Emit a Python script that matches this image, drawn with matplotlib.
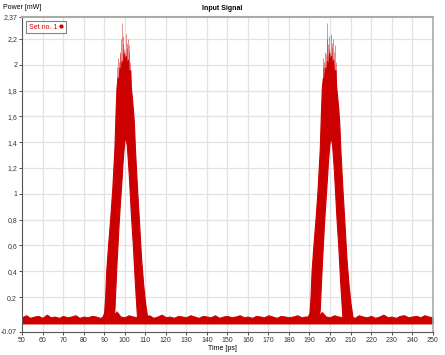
import matplotlib
matplotlib.use('Agg')
import matplotlib.pyplot as plt
from matplotlib.lines import Line2D
import numpy as np

# pulse envelope (offset from pulse centre in ps)
pulse_centers = [100, 200]
pulse_off = [-11, -10, -9.5, -9, -8, -7, -6, -5, -4.5, -4, -3.5, -3, -2.5, -2, -1.5, -1, -0.5, 0,
             0.5, 1, 1.5, 2, 2.5, 3, 3.5, 4, 4.5, 5, 6, 7, 8, 9, 10, 11]
pulse_hi = [0.04, 0.08, 0.2, 0.4, 0.62, 0.82, 1.05, 1.35, 1.6, 1.82, 1.9, 1.88, 1.98, 1.93, 2.03,
            1.97, 2.09, 2.02, 2.07, 1.98, 2.04, 1.92, 1.96, 1.83, 1.75, 1.66, 1.55, 1.35,
            1.05, 0.78, 0.5, 0.3, 0.15, 0.04]
pulse_lo = [0, 0, 0, 0, 0, 0, 0, 0.1, 0.28, 0.45, 0.6, 0.75, 0.88, 1.0, 1.12, 1.25, 1.35, 1.43,
            1.42, 1.38, 1.27, 1.15, 1.0, 0.85, 0.72, 0.6, 0.45, 0.3, 0.05, 0, 0, 0, 0, 0]

# noise spikes on top of the pulses
spike_off = [-3.6, -3.2, -2.8, -2.4, -2.1, -1.7, -1.3, -1.0, -0.7, -0.4, 0.2, 0.6, 0.9,
             1.2, 1.6, 1.9, 2.3, 2.7, 3.1]
spike_val = [1.98, 2.05, 2.02, 2.1, 2.08, 2.2, 2.32, 2.16, 2.22, 2.12, 2.1, 2.24, 2.13,
             2.17, 2.2, 2.1, 2.15, 2.02, 1.96]

# baseline noise band, every 2 ps from 50 to 250
base_t = list(range(50, 252, 2))
base_top = [0.045, 0.06, 0.04, 0.05, 0.055, 0.04, 0.065, 0.045, 0.05, 0.04,
            0.055, 0.045, 0.05, 0.06, 0.04, 0.05, 0.045, 0.055, 0.05, 0.04,
            0.05, 0.06, 0.05, 0.09, 0.05, 0.045, 0.06, 0.05, 0.045, 0.055,
            0.05, 0.06, 0.04, 0.05, 0.065, 0.045, 0.05, 0.04, 0.055, 0.05,
            0.045, 0.06, 0.05, 0.04, 0.055, 0.05, 0.045, 0.06, 0.04, 0.05,
            0.055, 0.045, 0.05, 0.06, 0.045, 0.05, 0.04, 0.055, 0.05, 0.045,
            0.06, 0.05, 0.04, 0.055, 0.05, 0.045, 0.05, 0.06, 0.045, 0.05,
            0.05, 0.06, 0.05, 0.085, 0.05, 0.045, 0.06, 0.05, 0.045, 0.055,
            0.05, 0.04, 0.06, 0.05, 0.045, 0.055, 0.04, 0.05, 0.065, 0.045,
            0.05, 0.04, 0.055, 0.06, 0.045, 0.05, 0.055, 0.045, 0.06, 0.05,
            0.045]
base_bot = -0.005

xticks = list(range(50, 260, 10))
yticks = [-0.07, 0.2, 0.4, 0.6, 0.8, 1.0, 1.2, 1.4, 1.6, 1.8, 2.0, 2.2, 2.37]
ylabels = ['-0.07', '0,2', '0,4', '0,6', '0,8', '1', '1,2', '1,4', '1,6', '1,8', '2', '2,2', '2,37']

red = '#cc0000'

plt.rcParams['font.family'] = ['Liberation Sans', 'DejaVu Sans']
fig = plt.figure(figsize=(4.45, 3.55), dpi=100)
ax = fig.add_axes([0.0494, 0.065, 0.923, 0.887])

ax.fill_between(base_t, base_bot, base_top, color=red, lw=0.6, edgecolor=red)
for c in pulse_centers:
    t = np.array(pulse_off) + c
    ax.fill_between(t, pulse_lo, pulse_hi, color=red, lw=0.8, edgecolor=red)
    ax.vlines(np.array(spike_off) + c, 1.85, spike_val, color=red, alpha=0.45, lw=0.7)

ax.set_xlim(50, 250)
ax.set_ylim(-0.07, 2.37)
ax.set_xticks(xticks)
ax.set_xticklabels([str(v) for v in xticks])
ax.set_yticks(yticks)
ax.set_yticklabels(ylabels)
ax.tick_params(labelsize=5, length=2, width=0.6, pad=1.5, colors='#333333')
ax.set_axisbelow(True)
for v in yticks[1:-1]:
    ax.axhline(v, color='#e2e2e2', lw=0.9, zorder=0)
for v in xticks[1:-1]:
    ax.axvline(v, color='#e2e2e2', lw=0.9, zorder=0)

ax.spines['left'].set_color('#555555')
ax.spines['bottom'].set_color('#555555')
ax.spines['top'].set_color('#aaaaaa')
ax.spines['top'].set_linewidth(1.5)
ax.spines['right'].set_color('#aaaaaa')
ax.spines['right'].set_linewidth(1.2)

fig.text(0.5, 0.975, 'Input Signal', ha='center', va='center', fontsize=5, fontweight='bold')
fig.text(0.006, 0.978, 'Power [mW]', ha='left', va='center', fontsize=5)
fig.text(0.5, 0.017, 'Time [ps]', ha='center', va='center', fontsize=5)

handle = Line2D([], [], color=red, marker='o', ms=2, lw=0)
leg = ax.legend([handle], ['Set no. 1'], loc='upper left', bbox_to_anchor=(0.01, 0.988),
                markerfirst=False, fontsize=5, labelcolor=red, fancybox=False,
                edgecolor='#666666', handlelength=0.6, handletextpad=0.3,
                borderpad=0.4, borderaxespad=0)
leg.get_frame().set_linewidth(0.8)

fig.savefig('out.png', dpi=100)
